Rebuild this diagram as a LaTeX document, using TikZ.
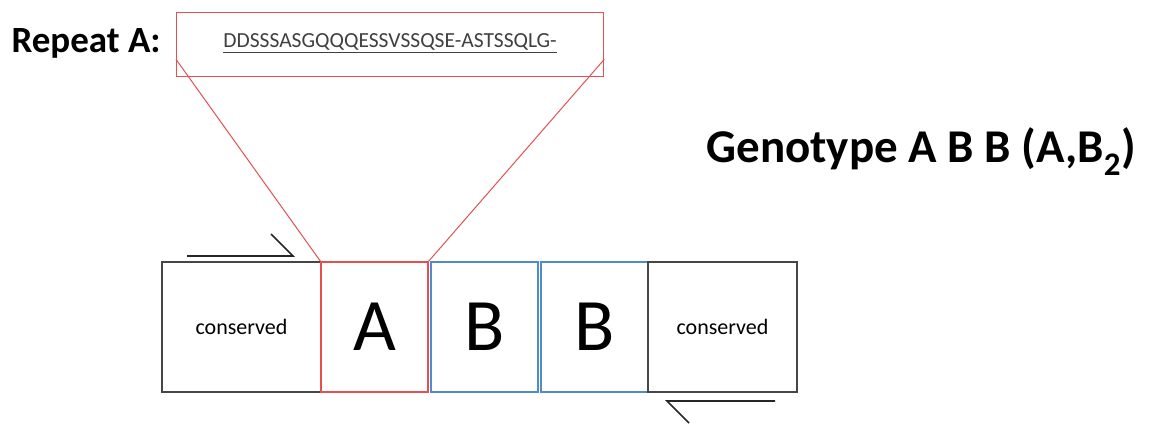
\documentclass[tikz,border=0pt]{standalone}
\usepackage{fontspec}
\setmainfont{Carlito}
\definecolor{repred}{RGB}{228,80,80}
\definecolor{repblue}{RGB}{80,140,200}
\definecolor{edgegray}{RGB}{70,70,70}
\tikzset{
  seg/.style={draw, line width=1.3pt, minimum height=130pt, inner sep=0pt, outer sep=0pt, anchor=west},
  consbox/.style={seg, draw=edgegray, font=\fontsize{22}{26}\selectfont},
  repbox/.style={seg, font=\fontsize{74}{80}\selectfont},
  primer/.style={line width=1.6pt, black!85}
}
\begin{document}
\begin{tikzpicture}[x=1pt, y=-1pt]
  \useasboundingbox (0,0) rectangle (1159,423);
  % repeat sequence
  \node [anchor=west, font=\bfseries\fontsize{37}{40}\selectfont] (replabel) at (8,43) {Repeat A:};
  \node [draw=repred, line width=1.3pt, minimum width=427pt, minimum height=64pt, inner sep=0pt,
         anchor=north west, font=\fontsize{21.5}{24}\selectfont, text=black!75] (rep) at (176,12)
        {\raisebox{8pt}{\underline{DDSSSASGQQQESSVSSQSE-ASTSSQLG-}}};
  % the genotype strip
  \node [consbox, minimum width=159pt] (consL) at (162,327) {conserved};
  \node [repbox, draw=repred, minimum width=107pt] (boxA) at (consL.east) {A};
  \node [repbox, draw=repblue, minimum width=107pt, xshift=3pt] (boxB1) at (boxA.east) {B};
  \node [repbox, draw=repblue, minimum width=107pt, xshift=3pt] (boxB2) at (boxB1.east) {B};
  \node [consbox, minimum width=149pt] (consR) at (boxB2.east) {conserved};
  % zoom lines
  \draw [repred, line width=1pt] ([yshift=18pt]rep.south west) -- (boxA.north west);
  \draw [repred, line width=1pt] ([yshift=18pt]rep.south east) -- (boxA.north east);
  % primers
  \coordinate (fwd) at (187,256);
  \coordinate (rev) at (775,401);
  \draw [primer] (fwd) -- ++(106,0) -- ++(-22,-22);
  \draw [primer] (rev) -- ++(-108,0) -- ++(22,22);
  \node [anchor=west, font=\bfseries\fontsize{47}{52}\selectfont] (geno) at (703,152) {Genotype A B B (A,B\textsubscript{2})};
\end{tikzpicture}
\end{document}
